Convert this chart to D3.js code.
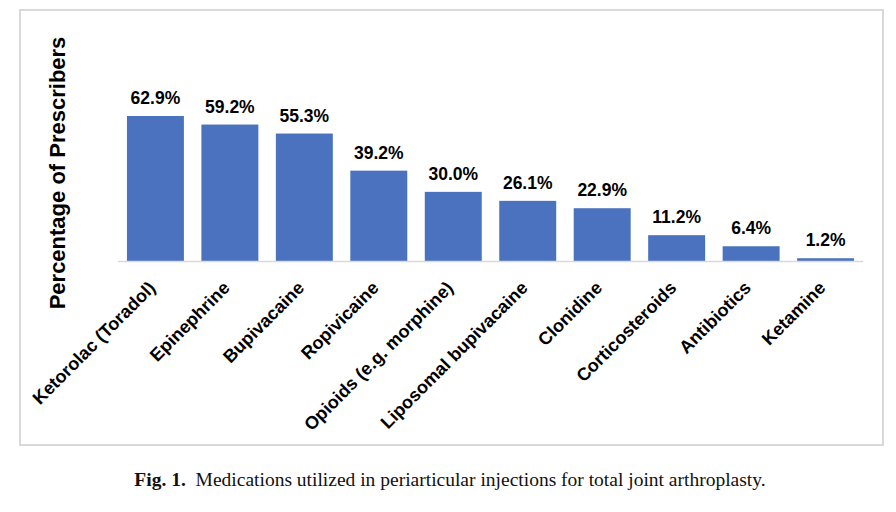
<!DOCTYPE html>
<html>
<head>
<meta charset="utf-8">
<script src="https://cdn.jsdelivr.net/npm/d3@7"></script>
<style>
  html, body { margin: 0; padding: 0; background: #fff; }
  svg { display: block; }
</style>
</head>
<body>
<svg id="chart" width="896" height="512"></svg>
<script>
const categories = ["Ketorolac (Toradol)", "Epinephrine", "Bupivacaine", "Ropivicaine", "Opioids (e.g. morphine)", "Liposomal bupivacaine", "Clonidine", "Corticosteroids", "Antibiotics", "Ketamine"];
const values = [62.9, 59.2, 55.3, 39.2, 30.0, 26.1, 22.9, 11.2, 6.4, 1.2];
const valueLabels = ["62.9%", "59.2%", "55.3%", "39.2%", "30.0%", "26.1%", "22.9%", "11.2%", "6.4%", "1.2%"];
const yTitle = "Percentage of Prescribers";
const captionBold = "Fig. 1.";
const captionText = "Medications utilized in periarticular injections for total joint arthroplasty.";

const svg = d3.select("#chart");
const font = "'Liberation Sans', Arial, sans-serif";

// frame
svg.append("rect").attr("x", 20).attr("y", 10).attr("width", 863).attr("height", 435)
  .attr("fill", "#fff").attr("stroke", "#d9d9d9").attr("stroke-width", 2);

const x = d3.scaleBand().domain(categories).range([118, 863]).paddingInner(0.235).paddingOuter(0.12);
const y = d3.scaleLinear().domain([0, 70]).range([261, 99.65]);

const data = categories.map((c, i) => ({ c, v: values[i], l: valueLabels[i] }));

svg.append("g").selectAll("rect").data(data).join("rect")
  .attr("x", d => x(d.c)).attr("width", x.bandwidth())
  .attr("y", d => y(d.v)).attr("height", d => y(0) - y(d.v))
  .attr("fill", "#4A72BF");

// baseline axis
const xAxis = svg.append("g").attr("transform", `translate(0,${y(0)})`)
  .call(d3.axisBottom(x).tickSize(0).tickPadding(0));
xAxis.select(".domain").attr("stroke", "#d9d9d9").attr("stroke-width", 1.5).attr("d", "M118,0.5H863");
xAxis.selectAll(".tick text")
  .attr("font-family", font).attr("font-weight", "bold").attr("font-size", 18).attr("fill", "#000")
  .attr("text-anchor", "end")
  .attr("transform", "translate(-8,19) rotate(-45)")
  .attr("dy", "0.71em").attr("y", 0).attr("x", 0);

// value labels
svg.append("g").selectAll("text").data(data).join("text")
  .attr("x", d => x(d.c) + x.bandwidth() / 2)
  .attr("y", d => y(d.v) - 12)
  .attr("text-anchor", "middle")
  .attr("font-family", font).attr("font-weight", "bold").attr("font-size", 17.5)
  .attr("fill", "#000")
  .text(d => d.l);

// y title
svg.append("text")
  .attr("transform", "translate(65,173) rotate(-90)")
  .attr("text-anchor", "middle")
  .attr("font-family", font).attr("font-weight", "bold").attr("font-size", 22)
  .attr("fill", "#000")
  .text(yTitle);

// caption
const cap = svg.append("text").attr("x", 450).attr("y", 486).attr("text-anchor", "middle")
  .attr("font-family", "'Liberation Serif', 'DejaVu Serif', serif").attr("font-size", 19.5).attr("fill", "#111");
cap.append("tspan").attr("font-weight", "bold").text(captionBold);
cap.append("tspan").text("\u00a0 " + captionText);
</script>
</body>
</html>
